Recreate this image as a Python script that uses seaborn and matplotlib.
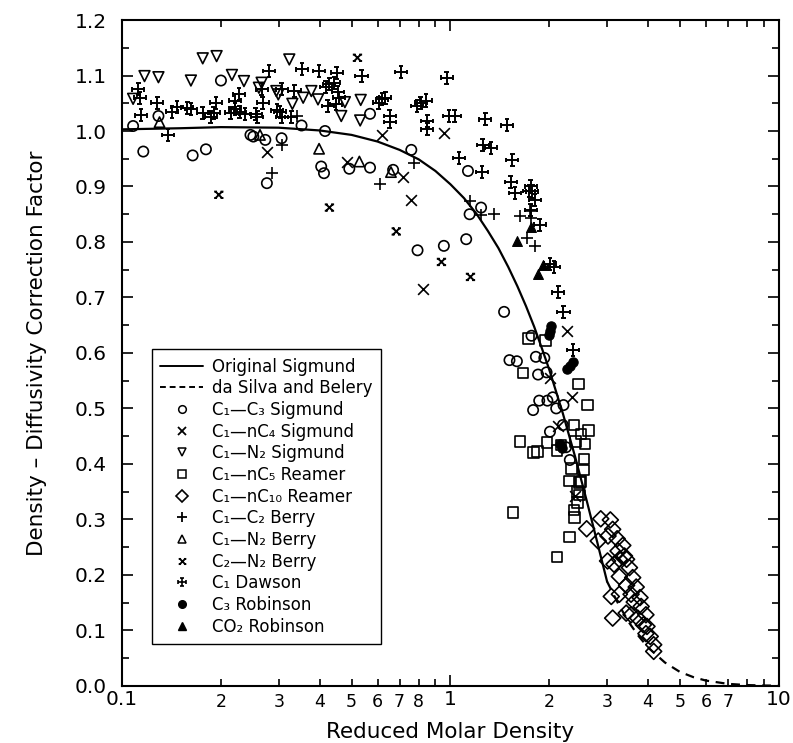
import numpy as np
import pandas as pd
import matplotlib
matplotlib.use("Agg")
import matplotlib.pyplot as plt
import seaborn as sns
from matplotlib.path import Path
from matplotlib.lines import Line2D
from matplotlib.ticker import FixedLocator, FixedFormatter, MultipleLocator

# ---------------- data ----------------
sigmund_x = [0.1, 0.15, 0.2, 0.3, 0.4, 0.5, 0.6, 0.7, 0.8, 0.9, 1.0, 1.1, 1.2, 1.3, 1.4,
             1.5, 1.6, 1.7, 1.8, 1.9, 2.0, 2.2, 2.4, 2.6, 2.8, 3.0]
sigmund_y = [1.003, 1.005, 1.007, 1.006, 1.001, 0.993, 0.981, 0.966, 0.949, 0.928, 0.904,
             0.879, 0.851, 0.820, 0.789, 0.755, 0.720, 0.684, 0.647, 0.608, 0.570, 0.491,
             0.412, 0.334, 0.259, 0.188]
dasilva_x = [3.0, 3.25, 3.5, 3.75, 4.0, 4.5, 5.0, 5.5, 6.0, 7.0, 8.0, 9.0, 10.0]
dasilva_y = [0.188, 0.147, 0.114, 0.089, 0.069, 0.042, 0.025, 0.0155, 0.0094, 0.0035,
             0.0013, 0.0005, 0.0002]

c1c3_sigmund = [(0.108, 1.009), (0.116, 0.963), (0.129, 1.027), (0.164, 0.956), (0.180, 0.967),
                (0.200, 1.091), (0.246, 0.993), (0.251, 0.990), (0.273, 0.984), (0.276, 0.906),
                (0.306, 0.987), (0.352, 1.010), (0.404, 0.936), (0.412, 0.924), (0.415, 1.000),
                (0.492, 0.932), (0.569, 0.934), (0.569, 1.031), (0.669, 0.930), (0.760, 0.966),
                (0.794, 0.785), (0.955, 0.793), (1.117, 0.805), (1.131, 0.928), (1.144, 0.850),
                (1.240, 0.862), (1.457, 0.674), (1.513, 0.587), (1.594, 0.585), (1.766, 0.631),
                (1.821, 0.593), (1.932, 0.591), (1.849, 0.561), (1.963, 0.565), (1.786, 0.497),
                (1.864, 0.514), (1.974, 0.514), (2.01, 0.458), (2.21, 0.506), (2.31, 0.407),
                (2.10, 0.500), (2.20, 0.470), (2.05, 0.520), (2.25, 0.430)]
c1nc4_sigmund = [(0.276, 0.963), (0.483, 0.945), (0.620, 0.993), (0.717, 0.918), (0.759, 0.876),
                 (0.824, 0.716), (0.957, 0.996), (2.01, 0.554), (2.13, 0.468), (2.27, 0.639),
                 (2.35, 0.521), (2.40, 0.342)]
c1n2_sigmund = [(0.108, 1.058), (0.117, 1.099), (0.129, 1.097), (0.162, 1.091), (0.176, 1.131),
                (0.194, 1.135), (0.216, 1.101), (0.235, 1.090), (0.266, 1.087), (0.261, 1.078),
                (0.295, 1.072), (0.299, 1.066), (0.323, 1.129), (0.330, 1.049), (0.356, 1.060),
                (0.377, 1.072), (0.395, 1.057), (0.465, 1.027), (0.477, 1.052), (0.533, 1.056),
                (0.531, 1.019)]
c1nc5_reamer = [(1.726, 0.626), (1.945, 0.623), (1.663, 0.564), (2.45, 0.544), (2.62, 0.506),
                (1.63, 0.440), (1.795, 0.420), (1.837, 0.422), (2.63, 0.460), (2.38, 0.470),
                (2.57, 0.436), (2.50, 0.454), (1.97, 0.438), (2.11, 0.424), (2.17, 0.434),
                (2.55, 0.409), (2.34, 0.391), (2.54, 0.389), (2.31, 0.369), (2.50, 0.368),
                (2.47, 0.366), (2.47, 0.344), (2.44, 0.331), (2.38, 0.317), (2.39, 0.303),
                (1.552, 0.313), (2.30, 0.268), (2.11, 0.232), (2.40, 0.440), (2.44, 0.350)]
c1nc10_reamer = [(2.87, 0.301), (3.07, 0.299), (2.60, 0.283), (3.12, 0.282), (2.82, 0.261),
                 (3.02, 0.270), (3.22, 0.265), (3.35, 0.253), (3.24, 0.243), (3.39, 0.234),
                 (3.44, 0.228), (3.01, 0.225), (3.27, 0.228), (3.15, 0.219), (3.51, 0.213),
                 (3.27, 0.197), (3.59, 0.195), (3.44, 0.181), (3.68, 0.178), (3.09, 0.161),
                 (3.27, 0.165), (3.55, 0.165), (3.78, 0.159), (3.63, 0.151), (3.81, 0.143),
                 (3.43, 0.131), (3.55, 0.128), (3.12, 0.122), (3.94, 0.128), (3.72, 0.122),
                 (3.87, 0.110), (3.97, 0.107), (3.94, 0.094), (4.06, 0.089), (4.16, 0.074),
                 (4.16, 0.062)]
c1c2_berry = [(0.286, 0.925), (0.306, 0.975), (0.340, 1.027), (0.612, 0.904), (0.777, 0.942),
              (1.144, 0.874), (1.240, 0.849), (1.36, 0.850), (1.63, 0.846), (1.75, 0.855),
              (1.76, 0.844), (1.71, 0.807), (1.81, 0.792)]
c1n2_berry = [(0.130, 1.016), (0.263, 0.993), (0.398, 0.968), (0.528, 0.945), (0.659, 0.926)]
c2n2_berry = [(0.197, 0.885), (0.428, 0.862), (0.521, 1.132), (0.684, 0.819), (0.939, 0.764),
              (1.151, 0.737)]
c1_dawson = [(0.112, 1.075), (0.113, 1.060), (0.114, 1.028), (0.128, 1.051), (0.138, 0.993),
             (0.142, 1.035), (0.147, 1.043), (0.158, 1.042), (0.162, 1.040), (0.176, 1.033),
             (0.186, 1.026), (0.190, 1.033), (0.193, 1.051), (0.214, 1.033), (0.221, 1.039),
             (0.228, 1.034), (0.237, 1.031), (0.220, 1.055), (0.227, 1.066), (0.255, 1.031),
             (0.258, 1.025), (0.268, 1.051), (0.266, 1.075), (0.280, 1.108), (0.296, 1.037),
             (0.353, 1.111), (0.398, 1.108), (0.450, 1.105), (0.536, 1.099), (0.708, 1.106),
             (0.973, 1.096), (0.306, 1.075), (0.335, 1.073), (0.417, 1.079), (0.428, 1.084),
             (0.443, 1.087), (0.453, 1.070), (0.459, 1.060), (0.448, 1.048), (0.423, 1.045),
             (0.303, 1.035), (0.328, 1.025), (0.306, 1.025), (0.605, 1.051), (0.619, 1.057),
             (0.634, 1.060), (0.653, 1.027), (0.653, 1.016), (0.790, 1.045), (0.812, 1.051),
             (0.843, 1.055), (0.850, 1.018), (0.850, 1.003), (0.990, 1.027), (1.03, 1.027),
             (1.277, 1.021), (1.486, 1.010), (1.062, 0.951), (1.253, 0.975), (1.328, 0.970),
             (1.248, 0.926), (1.545, 0.948), (1.527, 0.908), (1.574, 0.888), (1.754, 0.900),
             (1.775, 0.891), (1.739, 0.892), (1.806, 0.876), (1.754, 0.858), (1.87, 0.831),
             (2.01, 0.761), (2.07, 0.755), (2.13, 0.709), (2.21, 0.674), (2.36, 0.605)]
c3_robinson = [(2.03, 0.648), (2.01, 0.639), (2.00, 0.633), (2.36, 0.583), (2.31, 0.577),
               (2.27, 0.571), (2.16, 0.435), (2.19, 0.428)]
co2_robinson = [(1.754, 0.827), (1.60, 0.801), (1.91, 0.758), (1.85, 0.743)]

x_major_ticks = [0.1, 1, 10]
x_major_labels = ["0.1", "1", "10"]
x_minor_ticks = [0.2, 0.3, 0.4, 0.5, 0.6, 0.7, 0.8, 0.9, 2, 3, 4, 5, 6, 7, 8, 9]
x_minor_labels = ["2", "3", "4", "5", "6", "7", "8", "", "2", "3", "4", "5", "6", "7", "", ""]

# ---------------- custom markers ----------------
def dawson_marker():
    a, b = 1.0, 0.38
    verts = [(-a, 0), (a, 0), (0, -a), (0, a),
             (-a, -b), (-a, b), (a, -b), (a, b),
             (-b, -a), (b, -a), (-b, a), (b, a)]
    codes = [Path.MOVETO, Path.LINETO] * 6
    return Path(verts, codes)

def c2n2_marker():
    a, b = 1.0, 0.45
    verts = [(-a, -a), (a, a), (-a, a), (a, -a),
             (-a - b, a), (-a + b, a), (a - b, a), (a + b, a),
             (-a - b, -a), (-a + b, -a), (a - b, -a), (a + b, -a)]
    codes = [Path.MOVETO, Path.LINETO] * 6
    return Path(verts, codes)

DAW = dawson_marker()
C2N = c2n2_marker()

# ---------------- figure ----------------
sns.set_style("ticks")
plt.rcParams['font.family'] = ['DejaVu Sans']
plt.rcParams['axes.linewidth'] = 1.5
for key in ["text.color", "axes.labelcolor", "xtick.color", "ytick.color", "axes.edgecolor"]:
    plt.rcParams[key] = "black"

fig = plt.figure(figsize=(7.93, 7.43), dpi=100)
ax = fig.add_axes([0.154, 0.077, 0.828, 0.896])

lw = 1.2
def df(pts):
    return pd.DataFrame(pts, columns=["x", "y"])

sns.lineplot(x=sigmund_x, y=sigmund_y, ax=ax, color="k", lw=1.6, sort=False)
sns.lineplot(x=dasilva_x, y=dasilva_y, ax=ax, color="k", lw=1.6, sort=False, linestyle=(0, (4, 3)))

open_specs = [
    (c1c3_sigmund, "o", 55),
    (c1n2_sigmund, "v", 60),
    (c1nc5_reamer, "s", 60),
    (c1nc10_reamer, "D", 66),
    (c1n2_berry, "^", 55),
]
for pts, m, s in open_specs:
    d = df(pts)
    sns.scatterplot(data=d, x="x", y="y", ax=ax, marker=m, s=s,
                    facecolors="none", edgecolor="k", linewidth=lw, zorder=3)

for pts, m, s in [(c1nc4_sigmund, "x", 60), (c1c2_berry, "+", 85)]:
    d = df(pts)
    sns.scatterplot(data=d, x="x", y="y", ax=ax, marker=m, s=s, color="k",
                    linewidth=lw, zorder=3)

for pts, m, s in [(c2n2_berry, C2N, 45), (c1_dawson, DAW, 75)]:
    d = df(pts)
    sns.scatterplot(data=d, x="x", y="y", ax=ax, marker=m, s=s,
                    facecolors="none", edgecolor="k", linewidth=1.4, zorder=3)

for pts, m, s in [(c3_robinson, "o", 45), (co2_robinson, "^", 50)]:
    d = df(pts)
    sns.scatterplot(data=d, x="x", y="y", ax=ax, marker=m, s=s, color="k",
                    edgecolor="k", linewidth=0.8, zorder=3)

# ---------------- axes ----------------
ax.set_xscale("log")
ax.set_xlim(0.1, 10)
ax.set_ylim(0, 1.2)

ax.xaxis.set_major_locator(FixedLocator(x_major_ticks))
ax.xaxis.set_major_formatter(FixedFormatter(x_major_labels))
ax.xaxis.set_minor_locator(FixedLocator(x_minor_ticks))
ax.xaxis.set_minor_formatter(FixedFormatter(x_minor_labels))
ax.yaxis.set_major_locator(MultipleLocator(0.1))
ax.yaxis.set_minor_locator(MultipleLocator(0.05))
ax.yaxis.set_major_formatter(plt.FuncFormatter(lambda v, p: f"{v:.1f}"))

ax.tick_params(which="both", direction="in", top=True, right=True, width=1.2)
ax.tick_params(which="major", length=8)
ax.tick_params(which="minor", length=5)
ax.tick_params(axis="x", which="major", labelsize=14.5, pad=3)
ax.tick_params(axis="x", which="minor", labelsize=12.5, pad=5)
ax.tick_params(axis="y", which="major", labelsize=14.5, pad=11)

ax.set_xlabel("Reduced Molar Density", fontsize=15.5, labelpad=8)
ax.set_ylabel("Density \u2013 Diffusivity Correction Factor", fontsize=15.5, labelpad=20)

# ---------------- legend ----------------
ms = 5.5
handles = [
    Line2D([], [], color="k", lw=1.4),
    Line2D([], [], color="k", lw=1.4, linestyle=(0, (3, 2))),
    Line2D([], [], ls="none", marker="o", mfc="none", mec="k", ms=ms, mew=1.1),
    Line2D([], [], ls="none", marker="x", color="k", ms=ms, mew=1.3),
    Line2D([], [], ls="none", marker="v", mfc="none", mec="k", ms=ms, mew=1.1),
    Line2D([], [], ls="none", marker="s", mfc="none", mec="k", ms=ms, mew=1.1),
    Line2D([], [], ls="none", marker="D", mfc="none", mec="k", ms=ms + 0.5, mew=1.2),
    Line2D([], [], ls="none", marker="+", color="k", ms=ms + 1.5, mew=1.3),
    Line2D([], [], ls="none", marker="^", mfc="none", mec="k", ms=ms, mew=1.1),
    Line2D([], [], ls="none", marker=C2N, mfc="none", mec="k", ms=ms, mew=1.3),
    Line2D([], [], ls="none", marker=DAW, mfc="none", mec="k", ms=ms + 0.5, mew=1.2),
    Line2D([], [], ls="none", marker="o", color="k", ms=ms),
    Line2D([], [], ls="none", marker="^", color="k", ms=ms),
]
labels = [
    "Original Sigmund",
    "da Silva and Belery",
    "C\u2081\u2014C\u2083 Sigmund",
    "C\u2081\u2014nC\u2084 Sigmund",
    "C\u2081\u2014N\u2082 Sigmund",
    "C\u2081\u2014nC\u2085 Reamer",
    "C\u2081\u2014nC\u2081\u2080 Reamer",
    "C\u2081\u2014C\u2082 Berry",
    "C\u2081\u2014N\u2082 Berry",
    "C\u2082\u2014N\u2082 Berry",
    "C\u2081 Dawson",
    "C\u2083 Robinson",
    "CO\u2082 Robinson",
]
leg = ax.legend(handles, labels, loc="lower left", bbox_to_anchor=(0.045, 0.063),
                borderaxespad=0, fontsize=12, frameon=True, fancybox=False,
                edgecolor="k", framealpha=1, handlelength=2.6, handletextpad=0.5,
                labelspacing=0.22, borderpad=0.5)
leg.get_frame().set_linewidth(1.0)

fig.savefig("out.png", dpi=100)
